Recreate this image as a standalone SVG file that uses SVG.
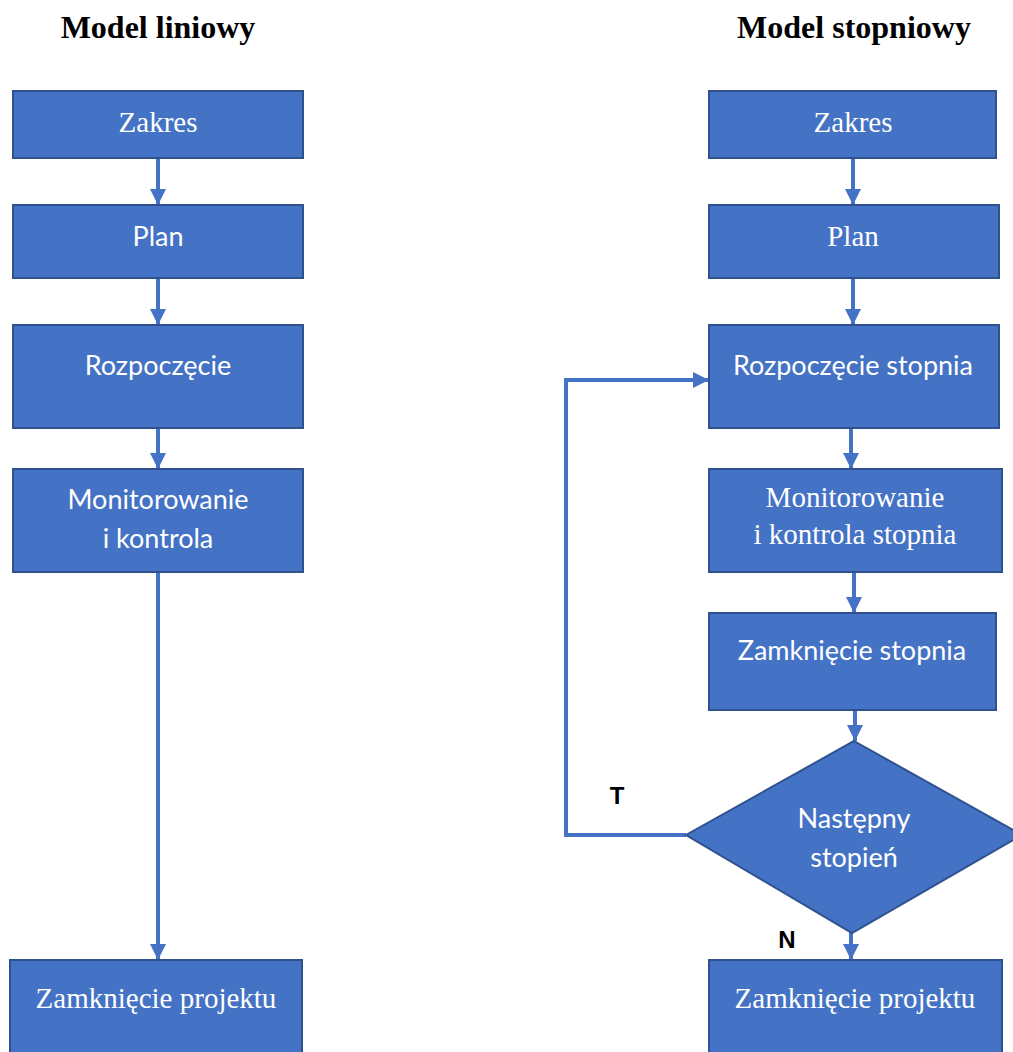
<svg xmlns="http://www.w3.org/2000/svg" width="1013" height="1052" viewBox="0 0 1013 1052">
  <style>
    .box { fill: #4472C4; stroke: #2F528F; stroke-width: 2; }
    .title { font-family: "Liberation Serif", serif; font-weight: bold; font-size: 32px; fill: #000; text-anchor: middle; }
    .serif { font-family: "Liberation Serif", serif; font-size: 29px; fill: #fff; text-anchor: middle; }
    .sans { font-family: Lato, "Liberation Sans", sans-serif; font-size: 27px; fill: #fff; text-anchor: middle; }
    .lbl { font-family: "Liberation Sans", sans-serif; font-weight: bold; font-size: 24px; fill: #000; text-anchor: middle; }
    .conn { fill: none; stroke: #4472C4; stroke-width: 4; marker-end: url(#arrow); }
  </style>
  <defs>
    <marker id="arrow" markerUnits="userSpaceOnUse" markerWidth="16" markerHeight="16" viewBox="0 0 16 16" refX="16" refY="8" orient="auto">
      <path d="M0,0 L16,8 L0,16 Z" fill="#4472C4"/>
    </marker>
  </defs>
  <rect width="1013" height="1052" fill="#fff"/>

  <text class="title" x="158" y="38">Model liniowy</text>
  <text class="title" x="854" y="38">Model stopniowy</text>

  <!-- connectors -->
  <g id="connectors">
    <path class="conn" d="M158,158 V205"/>
    <path class="conn" d="M158,278 V325"/>
    <path class="conn" d="M158,428 V469"/>
    <path class="conn" d="M158,572 V960"/>
    <path class="conn" d="M853,158 V205"/>
    <path class="conn" d="M853,278 V325"/>
    <path class="conn" d="M851,428 V469"/>
    <path class="conn" d="M854,572 V613"/>
    <path class="conn" d="M855,710 V741"/>
    <path class="conn" d="M851,932 V960"/>
    <path class="conn" d="M686,835 H566 V380 H709"/>
  </g>

  <!-- linear model -->
  <g id="l-zakres">
    <rect class="box" x="13" y="91" width="290" height="67"/>
    <text class="serif" x="158" y="132">Zakres</text>
  </g>
  <g id="l-plan">
    <rect class="box" x="13" y="205" width="290" height="73"/>
    <text class="sans" x="158" y="246">Plan</text>
  </g>
  <g id="l-start">
    <rect class="box" x="13" y="325" width="290" height="103"/>
    <text class="sans" x="158" y="375">Rozpoczęcie</text>
  </g>
  <g id="l-monitor">
    <rect class="box" x="13" y="469" width="290" height="103"/>
    <text class="sans" x="158" y="509">Monitorowanie</text>
    <text class="sans" x="158" y="548">i kontrola</text>
  </g>
  <g id="l-close">
    <rect class="box" x="10" y="960" width="292" height="100"/>
    <text class="serif" x="156" y="1008">Zamknięcie projektu</text>
  </g>

  <!-- staged model -->
  <g id="s-zakres">
    <rect class="box" x="709" y="91" width="287" height="67"/>
    <text class="serif" x="853" y="132">Zakres</text>
  </g>
  <g id="s-plan">
    <rect class="box" x="709" y="205" width="290" height="73"/>
    <text class="serif" x="853" y="246">Plan</text>
  </g>
  <g id="s-start">
    <rect class="box" x="709" y="325" width="290" height="103"/>
    <text class="sans" x="853" y="375">Rozpoczęcie stopnia</text>
  </g>
  <g id="s-monitor">
    <rect class="box" x="709" y="469" width="293" height="103"/>
    <text class="serif" x="855" y="507">Monitorowanie</text>
    <text class="serif" x="855" y="544">i kontrola stopnia</text>
  </g>
  <g id="s-close">
    <rect class="box" x="709" y="613" width="287" height="97"/>
    <text class="sans" x="852" y="660">Zamknięcie stopnia</text>
  </g>
  <g id="s-next">
    <polygon class="box" points="854,741 1022,835 852,933 686,835"/>
    <text class="sans" x="854" y="828">Następny</text>
    <text class="sans" x="854" y="867">stopień</text>
  </g>
  <g id="s-end">
    <rect class="box" x="709" y="960" width="293" height="100"/>
    <text class="serif" x="855" y="1008">Zamknięcie projektu</text>
  </g>

  <text class="lbl" x="617" y="804">T</text>
  <text class="lbl" x="787" y="948">N</text>
</svg>
